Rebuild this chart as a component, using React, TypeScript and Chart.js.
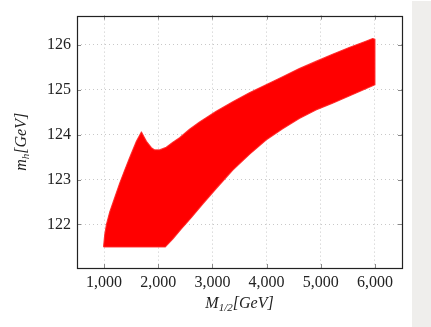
import React, { useEffect, useRef } from "react";
import { Chart, registerables } from "chart.js";

Chart.register(...registerables);

// Outline of the filled (M_1/2, m_h) region, traced from the bottom-left corner:
// left edge up to the peak, upper edge to the right, right edge down, lower edge back.
const regionX = [
  990, 1013, 1044, 1105, 1197, 1289, 1381, 1473, 1597, 1689, 1781, 1873, 1934, 2026, 2148,
  2271, 2394, 2578, 2763, 3070, 3376, 3683, 3990, 4297, 4604, 4911, 5218, 5525, 5832, 5960,
  6000, 6000, 5832, 5525, 5218, 4911, 4604, 4297, 3990, 3683, 3376, 3070, 2824, 2609, 2425,
  2271, 2130, 990,
];
const regionY = [
  121.5, 121.78, 122.0, 122.28, 122.6, 122.92, 123.21, 123.49, 123.85, 124.06, 123.85, 123.71,
  123.66, 123.66, 123.72, 123.83, 123.93, 124.12, 124.28, 124.52, 124.73, 124.93, 125.11,
  125.29, 125.47, 125.63, 125.79, 125.94, 126.08, 126.14, 126.12, 125.11, 125.02, 124.86,
  124.7, 124.55, 124.36, 124.13, 123.88, 123.56, 123.21, 122.8, 122.46, 122.15, 121.9, 121.68,
  121.5, 121.5,
];

const xTicks = [1000, 2000, 3000, 4000, 5000, 6000];
const yTicks = [122, 123, 124, 125, 126];
const xRange = [500, 6500];
const yRange = [121.03, 126.65];

const SERIF = "'Liberation Serif', 'DejaVu Serif', serif";

const framePlugin = {
  id: "frame",
  afterDraw(chart: any) {
    const { ctx, chartArea } = chart;
    const { left, right, top, bottom } = chartArea;
    const xs = chart.scales.x;
    const ys = chart.scales.y;
    ctx.save();
    // inside tick marks
    ctx.strokeStyle = "#888";
    ctx.lineWidth = 1;
    ctx.beginPath();
    xTicks.forEach((v) => {
      const px = Math.round(xs.getPixelForValue(v)) + 0.5;
      ctx.moveTo(px, bottom);
      ctx.lineTo(px, bottom - 4);
      ctx.moveTo(px, top);
      ctx.lineTo(px, top + 4);
    });
    yTicks.forEach((v) => {
      const py = Math.round(ys.getPixelForValue(v)) + 0.5;
      ctx.moveTo(left, py);
      ctx.lineTo(left + 4, py);
      ctx.moveTo(right, py);
      ctx.lineTo(right - 4, py);
    });
    ctx.stroke();
    // frame
    ctx.strokeStyle = "#222";
    ctx.lineWidth = 1.2;
    ctx.strokeRect(Math.round(left) + 0.5, Math.round(top) + 0.5, Math.round(right - left), Math.round(bottom - top));

    // axis titles with subscripts
    const drawTitle = (parts: { t: string; sub?: boolean }[], cx: number, cy: number, rot: number) => {
      ctx.save();
      ctx.translate(cx, cy);
      ctx.rotate(rot);
      ctx.fillStyle = "#222";
      ctx.textBaseline = "alphabetic";
      let total = 0;
      parts.forEach((p) => {
        ctx.font = `italic ${p.sub ? 11 : 16}px ${SERIF}`;
        total += ctx.measureText(p.t).width;
      });
      let x = -total / 2;
      parts.forEach((p) => {
        ctx.font = `italic ${p.sub ? 11 : 16}px ${SERIF}`;
        ctx.fillText(p.t, x, p.sub ? 8 : 5);
        x += ctx.measureText(p.t).width;
      });
      ctx.restore();
    };
    drawTitle(
      [{ t: "M" }, { t: "1/2", sub: true }, { t: "[GeV]" }],
      (left + right) / 2,
      303,
      0
    );
    drawTitle(
      [{ t: "m" }, { t: "h", sub: true }, { t: "[GeV]" }],
      21,
      (top + bottom) / 2,
      -Math.PI / 2
    );
    ctx.restore();
  },
};

export default function App() {
  const canvasRef = useRef<HTMLCanvasElement | null>(null);

  useEffect(() => {
    document.body.style.margin = "0";
    document.body.style.background = "#ffffff";
    const canvas = canvasRef.current;
    if (!canvas) return;
    const points = regionX.map((x, i) => ({ x, y: regionY[i] }));
    const chart = new Chart(canvas, {
      type: "scatter",
      data: {
        datasets: [
          {
            data: points,
            showLine: true,
            fill: "shape",
            backgroundColor: "rgba(255,0,0,1)",
            borderColor: "rgba(255,30,30,0.85)",
            borderWidth: 1.2,
            borderJoinStyle: "round",
            pointRadius: 0,
            tension: 0,
          } as any,
        ],
      },
      options: {
        animation: false,
        responsive: true,
        maintainAspectRatio: false,
        layout: { padding: { top: 7, right: 29, left: 0, bottom: 0 } },
        plugins: { legend: { display: false }, tooltip: { enabled: false } },
        scales: {
          x: {
            type: "linear",
            min: xRange[0],
            max: xRange[1],
            afterBuildTicks: (s: any) => {
              s.ticks = xTicks.map((v) => ({ value: v }));
            },
            afterFit: (s: any) => {
              s.height = 59;
            },
            grid: { color: "#c8c8c8", drawTicks: false, lineWidth: 1 },
            border: { display: false, dash: [1, 3] },
            ticks: {
              padding: 5,
              color: "#222",
              font: { family: SERIF, size: 16 },
              maxRotation: 0,
              callback: (v: any) => Number(v).toLocaleString("en-US"),
            },
          },
          y: {
            type: "linear",
            min: yRange[0],
            max: yRange[1],
            afterBuildTicks: (s: any) => {
              s.ticks = yTicks.map((v) => ({ value: v }));
            },
            afterFit: (s: any) => {
              s.width = 77;
            },
            grid: { color: "#c8c8c8", drawTicks: false, lineWidth: 1 },
            border: { display: false, dash: [1, 3] },
            ticks: {
              padding: 6,
              color: "#222",
              font: { family: SERIF, size: 16 },
              callback: (v: any) => String(v),
            },
          },
        },
      },
      plugins: [framePlugin],
    });
    return () => chart.destroy();
  }, []);

  return (
    <div style={{ position: "relative", width: 431, height: 327, background: "#fff" }}>
      <div style={{ position: "absolute", left: 0, top: 0, width: 431, height: 327 }}>
        <canvas ref={canvasRef} />
      </div>
      <div
        style={{
          position: "absolute",
          left: 412,
          top: 1,
          width: 19,
          height: 326,
          background: "#efeeec",
        }}
      />
    </div>
  );
}
